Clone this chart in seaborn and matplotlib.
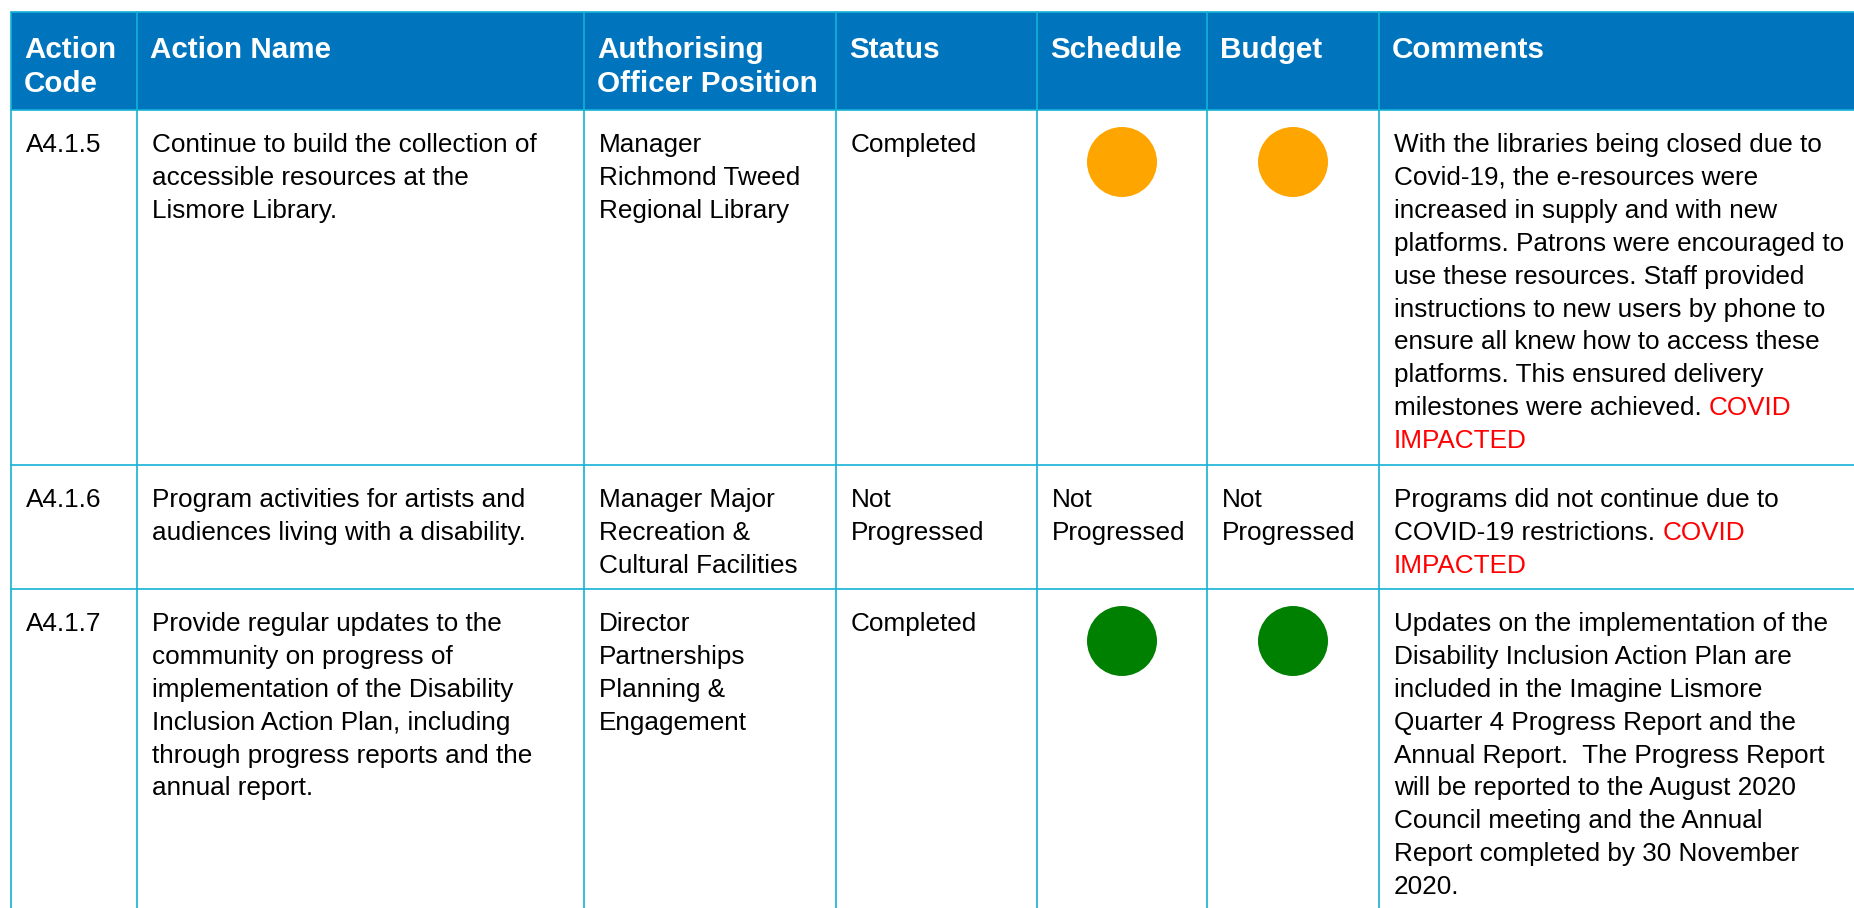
import matplotlib
matplotlib.use("Agg")
import matplotlib.pyplot as plt
import seaborn as sns
import pandas as pd

# ---------------- data ----------------
headers = [["Action", "Code"], ["Action Name"], ["Authorising", "Officer Position"],
           ["Status"], ["Schedule"], ["Budget"], ["Comments"]]
codes = ["A4.1.5", "A4.1.6", "A4.1.7"]
names = [
    ["Continue to build the collection of", "accessible resources at the", "Lismore Library."],
    ["Program activities for artists and", "audiences living with a disability."],
    ["Provide regular updates to the", "community on progress of",
     "implementation of the Disability", "Inclusion Action Plan, including",
     "through progress reports and the", "annual report."],
]
officers = [
    ["Manager", "Richmond Tweed", "Regional Library"],
    ["Manager Major", "Recreation &", "Cultural Facilities"],
    ["Director", "Partnerships", "Planning &", "Engagement"],
]
status = [["Completed"], ["Not", "Progressed"], ["Completed"]]
schedule = ["Amber", "Not Progressed", "Green"]
budget = ["Amber", "Not Progressed", "Green"]
# text after "|" is the red "COVID IMPACTED" tag
comments = [
    ["With the libraries being closed due to", "Covid-19, the e-resources were",
     "increased in supply and with new", "platforms. Patrons were encouraged to",
     "use these resources. Staff provided", "instructions to new users by phone to",
     "ensure all knew how to access these", "platforms. This ensured delivery",
     "milestones were achieved. |COVID", "|IMPACTED"],
    ["Programs did not continue due to", "COVID-19 restrictions. |COVID", "|IMPACTED"],
    ["Updates on the implementation of the", "Disability Inclusion Action Plan are",
     "included in the Imagine Lismore", "Quarter 4 Progress Report and the",
     "Annual Report.  The Progress Report", "will be reported to the August 2020",
     "Council meeting and the Annual", "Report completed by 30 November", "2020."],
]

# ---------------- style / layout ----------------
W, H = 1854, 908
HEADER_BLUE = "#0074BC"
GRID = "#14B2D6"
RED = "#FF0000"
STATUS_COLORS = {"Amber": "#FFA500", "Green": "#008000"}
FONT = "Liberation Sans"
FS = 18.8
HFS = 21.3
LH = 32.9

col_edges = [11, 137, 584, 836, 1037, 1207, 1379, W + 10]
row_edges = [12, 110, 465, 589, W]
PADX = 15

sns.set_theme(style="white")
plt.rcParams["font.family"] = [FONT, "DejaVu Sans"]

fig = plt.figure(figsize=(W / 100, H / 100), dpi=100)
ax = fig.add_axes([0, 0, 1, 1])
ax.set_xlim(0, W)
ax.set_ylim(H, 0)
ax.axis("off")

# header background
ax.add_patch(plt.Rectangle((col_edges[0], row_edges[0]), W - col_edges[0], row_edges[1] - row_edges[0],
                           facecolor=HEADER_BLUE, edgecolor="none", zorder=0))

# grid lines
for y in row_edges[:-1]:
    ax.plot([col_edges[0], W], [y, y], color=GRID, lw=1.2, zorder=2)
for x in col_edges[:-1]:
    ax.plot([x, x], [row_edges[0], H], color=GRID, lw=1.2, zorder=2)

# header text
for ci, lines in enumerate(headers):
    for li, t in enumerate(lines):
        ax.text(col_edges[ci] + PADX - 2, 58 + li * 34.3, t, color="white", fontsize=HFS,
                fontweight="bold", va="baseline", ha="left", zorder=3)

renderer = fig.canvas.get_renderer()


def text_width(s):
    t = ax.text(0, 0, s, fontsize=FS)
    bb = t.get_window_extent(renderer=renderer)
    t.remove()
    return bb.width


def draw_lines(x, y0, lines):
    for li, line in enumerate(lines):
        y = y0 + li * LH
        if "|" in line:
            black, red = line.split("|", 1)
            if black:
                ax.text(x, y, black, fontsize=FS, color="black", va="baseline", ha="left", zorder=3)
                full_w = text_width(black + red)
                red_w = text_width(red)
                xr = x + full_w - red_w
            else:
                xr = x
            ax.text(xr, y, red, fontsize=FS, color=RED, va="baseline", ha="left", zorder=3)
        else:
            ax.text(x, y, line, fontsize=FS, color="black", va="baseline", ha="left", zorder=3)


BASE_OFF = 42
for ri in range(len(codes)):
    top = row_edges[ri + 1]
    y0 = top + BASE_OFF
    draw_lines(col_edges[0] + PADX, y0, [codes[ri]])
    draw_lines(col_edges[1] + PADX, y0, names[ri])
    draw_lines(col_edges[2] + PADX, y0, officers[ri])
    draw_lines(col_edges[3] + PADX, y0, status[ri])
    for ci, vals in ((4, schedule), (5, budget)):
        if vals[ri] not in STATUS_COLORS:
            draw_lines(col_edges[ci] + PADX, y0, vals[ri].split(" "))
    draw_lines(col_edges[6] + PADX, y0, comments[ri])

# status circles
recs = []
for ri in range(len(codes)):
    for ci, vals in ((4, schedule), (5, budget)):
        if vals[ri] in STATUS_COLORS:
            recs.append({"x": (col_edges[ci] + col_edges[ci + 1]) / 2,
                         "y": row_edges[ri + 1] + 52, "rag": vals[ri]})
df = pd.DataFrame(recs)
sns.scatterplot(data=df, x="x", y="y", hue="rag", palette=STATUS_COLORS, s=2540,
                linewidth=0, legend=False, ax=ax, zorder=4)
ax.set_xlim(0, W)
ax.set_ylim(H, 0)
ax.axis("off")

fig.savefig("out.png", dpi=100)
